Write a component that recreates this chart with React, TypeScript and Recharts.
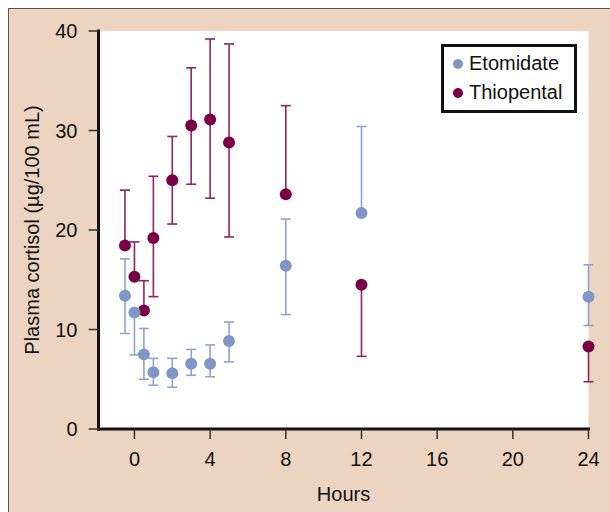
import React from 'react';
import { ScatterChart, Scatter, XAxis, YAxis, ErrorBar, ReferenceArea, Legend } from 'recharts';

const hours = [-0.5, 0, 0.5, 1, 2, 3, 4, 5, 8, 12, 24];
const etomidateMean = [13.4, 11.7, 7.5, 5.7, 5.6, 6.55, 6.55, 8.85, 16.4, 21.7, 13.3];
const etomidateLower = [9.6, 7.45, 5.0, 4.4, 4.2, 5.4, 5.25, 6.75, 11.5, null, 10.4];
const etomidateUpper = [17.1, null, 10.1, 7.1, 7.1, 8.0, 8.45, 10.75, 21.1, 30.4, 16.5];
const thiopentalMean = [18.45, 15.3, 11.9, 19.2, 25.0, 30.5, 31.1, 28.8, 23.6, 14.5, 8.3];
const thiopentalLower = [null, null, null, 13.3, 20.6, 24.6, 23.2, 19.3, null, 7.3, 4.75];
const thiopentalUpper = [24.0, 18.8, 14.9, 25.4, 29.4, 36.3, 39.2, 38.7, 32.5, null, null];
const xTicks = [0, 4, 8, 12, 16, 20, 24];
const yTicks = [0, 10, 20, 30, 40];

const ETO_COLOR = '#7f96c7';
const ETO_BAR = '#8fa3d1';
const THIO_COLOR = '#7a0046';
const THIO_BAR = '#8e2462';
const FONT = '"Liberation Sans", Arial, Helvetica, sans-serif';

function build(mean: number[], lower: (number | null)[], upper: (number | null)[]) {
  return hours.map((h, i) => ({
    x: h,
    y: mean[i],
    err: [mean[i] - (lower[i] ?? mean[i]), (upper[i] ?? mean[i]) - mean[i]],
  }));
}

const etomidateData = build(etomidateMean, etomidateLower, etomidateUpper);
const thiopentalData = build(thiopentalMean, thiopentalLower, thiopentalUpper);

const legendItems = [
  { name: 'Etomidate', color: ETO_COLOR },
  { name: 'Thiopental', color: THIO_COLOR },
];

const renderLegend = () => (
  <div
    style={{
      border: '3px solid #111',
      background: '#fff',
      width: 136,
      boxSizing: 'border-box',
      padding: '2px 0 3px 9px',
      fontFamily: FONT,
      fontSize: 20,
      color: '#111',
    }}
  >
    {legendItems.map((it) => (
      <div key={it.name} style={{ display: 'flex', alignItems: 'center', height: 29 }}>
        <span
          style={{
            display: 'inline-block',
            width: 10,
            height: 10,
            borderRadius: '50%',
            background: it.color,
            marginRight: 6,
          }}
        />
        {it.name}
      </div>
    ))}
  </div>
);

const dot = (color: string) => (p: any) => <circle cx={p.cx} cy={p.cy} r={6} fill={color} />;

export default function App() {
  return (
    <div style={{ position: 'absolute', left: 0, top: 0, width: 610, height: 512 }}>
      <div
        style={{
          position: 'absolute',
          left: 8,
          top: 8,
          width: 602,
          height: 504,
          boxSizing: 'border-box',
          background: '#ecd4c0',
          borderTop: '1px solid #555',
          borderLeft: '1px solid #555',
        }}
      />
      <div style={{ position: 'absolute', left: 0, top: 0 }}>
        <ScatterChart width={610} height={512} margin={{ top: 31, right: 21.5, bottom: 23, left: 38.5 }}>
          <XAxis
            type="number"
            dataKey="x"
            domain={[-1.9, 24]}
            ticks={xTicks}
            height={60}
            tickSize={10}
            tickMargin={13}
            axisLine={{ stroke: '#111', strokeWidth: 3, strokeLinecap: 'square' }}
            tickLine={{ stroke: '#333', strokeWidth: 1.5 }}
            tick={{ fontSize: 20, fill: '#111', fontFamily: FONT }}
            label={{
              content: (props: any) => {
                const vb = props.viewBox || {};
                const cx = (vb.x ?? 98.5) + (vb.width ?? 490) / 2;
                return (
                  <text x={cx} y={494} textAnchor="middle" dominantBaseline="central" fontSize={20} fill="#111" fontFamily={FONT}>
                    Hours
                  </text>
                );
              },
            }}
          />
          <YAxis
            type="number"
            dataKey="y"
            domain={[0, 40]}
            ticks={yTicks}
            width={60}
            tickSize={10}
            tickMargin={11}
            axisLine={{ stroke: '#111', strokeWidth: 3, strokeLinecap: 'square' }}
            tickLine={{ stroke: '#333', strokeWidth: 1.5 }}
            tick={{ fontSize: 20, fill: '#111', fontFamily: FONT }}
            label={{
              content: (props: any) => {
                const vb = props.viewBox || {};
                const cy = (vb.y ?? 31) + (vb.height ?? 398) / 2;
                return (
                  <text
                    x={32}
                    y={cy}
                    transform={`rotate(-90 32 ${cy})`}
                    textAnchor="middle"
                    dominantBaseline="central"
                    fontSize={20}
                    fill="#111"
                    fontFamily={FONT}
                  >
                    Plasma cortisol (µg/100 mL)
                  </text>
                );
              },
            }}
          />
          <ReferenceArea x1={-1.9} x2={24} y1={0} y2={40} fill="#ffffff" fillOpacity={1} stroke="none" ifOverflow="visible" />
          <Scatter name="Thiopental" data={thiopentalData} fill={THIO_COLOR} shape={dot(THIO_COLOR)} isAnimationActive={false}>
            <ErrorBar dataKey="err" direction="y" width={5} stroke={THIO_BAR} strokeWidth={1.6} isAnimationActive={false} />
          </Scatter>
          <Scatter name="Etomidate" data={etomidateData} fill={ETO_COLOR} shape={dot(ETO_COLOR)} isAnimationActive={false}>
            <ErrorBar dataKey="err" direction="y" width={5} stroke={ETO_BAR} strokeWidth={1.6} isAnimationActive={false} />
          </Scatter>
          <Legend
            layout="vertical"
            align="center"
            verticalAlign="middle"
            content={renderLegend}
            wrapperStyle={{ left: 441, top: 44, width: 136 }}
          />
        </ScatterChart>
      </div>
    </div>
  );
}
